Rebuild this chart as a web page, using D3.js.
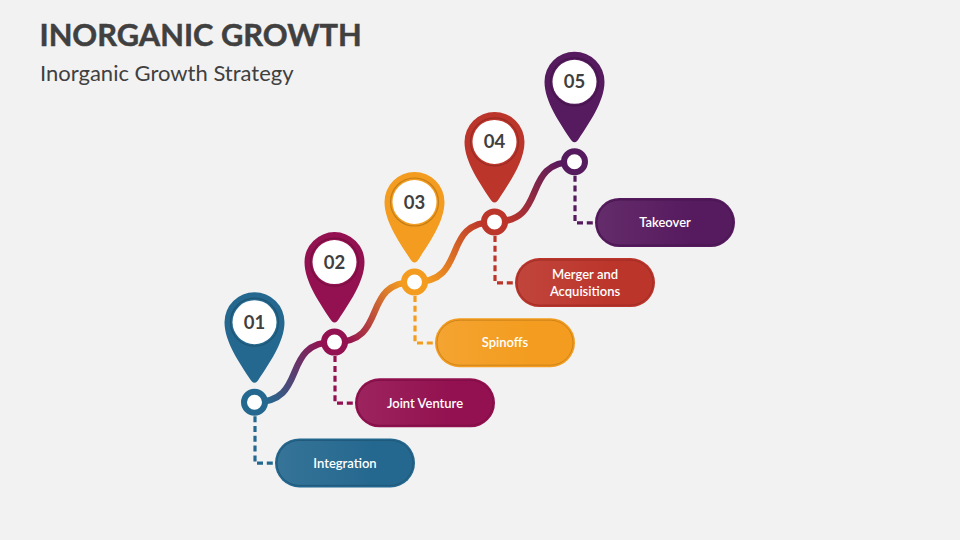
<!DOCTYPE html>
<html>
<head>
<meta charset="utf-8">
<script src="https://cdn.jsdelivr.net/npm/d3@7"></script>
<style>
  html, body { margin: 0; padding: 0; background: #f2f2f2; }
  svg { display: block; font-family: Lato, sans-serif; }
</style>
</head>
<body>
<div class="chart"></div>
<script>
const stepNumbers = ['01', '02', '03', '04', '05']
const stepNames = [['Integration'], ['Joint Venture'], ['Spinoffs'], ['Merger and', 'Acquisitions'], ['Takeover']]
const stepColors = ['#25688f', '#931150', '#f39c1f', '#bc352b', '#561a5e']

const w = 960, h = 540

const svg = d3.select('.chart')
              .append('svg')
              .attr('width', w)
              .attr('height', h)

svg.append('rect')
   .attr('width', w)
   .attr('height', h)
   .attr('fill', '#f2f2f2')

const xScale = d3.scalePoint().domain(stepNumbers).range([254.5, 574.5])
const yScale = d3.scalePoint().domain(stepNumbers).range([402.2, 161.8])
const color = d3.scaleOrdinal().domain(stepNumbers).range(stepColors)

const lighter = (c) => d3.interpolateRgb(c, '#ffffff')(0.08)
const darker = (c) => d3.color(c).darker(0.6).formatHex()

svg.append('text')
   .attr('x', 39.5)
   .attr('y', 45.5)
   .attr('fill', '#404040')
   .attr('stroke', '#404040')
   .attr('stroke-width', 0.5)
   .attr('font-size', 30.8)
   .attr('font-weight', 700)
   .text('INORGANIC GROWTH')

svg.append('text')
   .attr('x', 40)
   .attr('y', 81)
   .attr('fill', '#404040')
   .attr('font-size', 22)
   .text('Inorganic Growth Strategy')

const defs = svg.append('defs')

// pill fill: lighter on the left, plain colour from about the middle
stepNumbers.forEach((n) => {
    const g = defs.append('linearGradient').attr('id', `pill-${n}`)
    g.append('stop').attr('offset', '0%').attr('stop-color', lighter(color(n)))
    g.append('stop').attr('offset', '70%').attr('stop-color', color(n))
})

// connector fill runs from one step colour into the next
const links = d3.pairs(stepNumbers)

links.forEach(([a, b]) => {
    const g = defs.append('linearGradient')
                  .attr('id', `link-${a}`)
                  .attr('gradientUnits', 'userSpaceOnUse')
                  .attr('x1', xScale(a)).attr('y1', yScale(a))
                  .attr('x2', xScale(b)).attr('y2', yScale(b))
    g.append('stop').attr('offset', '10%').attr('stop-color', color(a))
    g.append('stop').attr('offset', '90%').attr('stop-color', color(b))
})

// S curve, control points pulled past the middle so it stands steep halfway
const linkPath = ([a, b]) => {
    const x0 = xScale(a), y0 = yScale(a), x1 = xScale(b), y1 = yScale(b)
    const pull = (x1 - x0) * 0.69
    const p = d3.path()
    p.moveTo(x0, y0)
    p.bezierCurveTo(x0 + pull, y0, x1 - pull, y1, x1, y1)
    return p.toString()
}

svg.selectAll('.link')
   .data(links)
   .enter()
   .append('path')
   .attr('class', 'link')
   .attr('d', linkPath)
   .attr('fill', 'none')
   .attr('stroke', (d) => `url(#link-${d[0]})`)
   .attr('stroke-width', 6.5)

const step = svg.selectAll('.step')
                .data(stepNumbers)
                .enter()
                .append('g')
                .attr('class', 'step')
                .attr('transform', (d) => `translate(${xScale(d)},${yScale(d)})`)

// dashed leader from the node to its pill
step.append('path')
    .attr('d', 'M0.5,14 V61 H21')
    .attr('fill', 'none')
    .attr('stroke', (d) => color(d))
    .attr('stroke-width', 3.2)
    .attr('stroke-dasharray', '6 3.8')

step.append('circle')
    .attr('r', 10.5)
    .attr('fill', '#ffffff')
    .attr('stroke', (d) => color(d))
    .attr('stroke-width', 6)

const pin = step.append('g').attr('transform', 'translate(0,-80)')

pin.append('path')
   .attr('d', 'M0,60.5 C-2,60.5 -3,59 -4,57.5 C-14,42 -30,20 -30,0 A30,30 0 1 1 30,0 C30,20 14,42 4,57.5 C3,59 2,60.5 0,60.5 Z')
   .attr('fill', (d) => color(d))

pin.append('circle')
   .attr('r', 24)
   .attr('fill', 'none')
   .attr('stroke', (d) => darker(color(d)))
   .attr('stroke-width', 1.2)

pin.append('circle')
   .attr('r', 22)
   .attr('fill', '#ffffff')

pin.append('text')
   .attr('text-anchor', 'middle')
   .attr('y', 6.5)
   .attr('fill', '#404040')
   .attr('font-size', 18.5)
   .attr('font-weight', 700)
   .text((d) => d)

const pill = step.append('g').attr('transform', 'translate(20.5,36.2)')

pill.append('rect')
    .attr('width', 140)
    .attr('height', 49)
    .attr('rx', 24.5)
    .attr('fill', (d) => color(d))

pill.append('rect')
    .attr('x', 2)
    .attr('y', 2)
    .attr('width', 136)
    .attr('height', 45)
    .attr('rx', 22.5)
    .attr('fill', (d) => `url(#pill-${d})`)
    .attr('stroke', (d) => darker(color(d)))
    .attr('stroke-width', 0.8)

pill.append('text')
    .attr('text-anchor', 'middle')
    .attr('fill', '#ffffff')
    .attr('font-size', 13)
    .attr('font-weight', 600)
    .selectAll('tspan')
    .data((d, i) => stepNames[i].map((line, k, all) => ({ line, dy: 29.3 + (k - (all.length - 1) / 2) * 17 })))
    .enter()
    .append('tspan')
    .attr('x', 70)
    .attr('y', (d) => d.dy)
    .text((d) => d.line)
</script>
</body>
</html>
